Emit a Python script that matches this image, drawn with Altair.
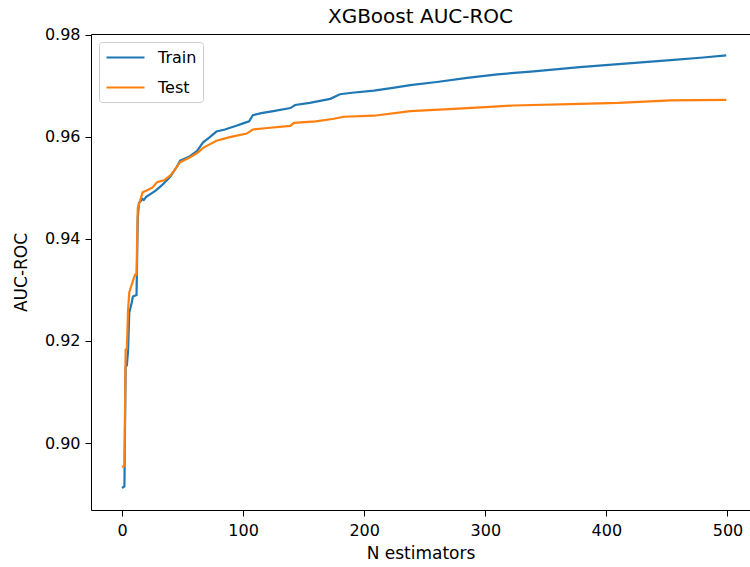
import altair as alt
import pandas as pd

n_train = [0, 2, 3, 4, 5, 6, 8, 9, 12, 13, 14, 17, 18, 20, 25, 28, 33, 40, 45, 48,
           55, 62, 67, 72, 78, 85, 95, 100, 105, 108, 115, 125, 139, 143, 155, 172,
           180, 190, 208, 225, 238, 260, 285, 310, 340, 378, 410, 453, 480, 499]
auc_train = [0.8912, 0.8915, 0.9150, 0.9152, 0.9180, 0.9255, 0.9275, 0.9287, 0.9290,
             0.9440, 0.9470, 0.9478, 0.9476, 0.9482, 0.9490, 0.9495, 0.9505, 0.9522,
             0.9540, 0.9553, 0.9560, 0.9572, 0.9589, 0.9598, 0.9610, 0.9614, 0.9622,
             0.9626, 0.9630, 0.9642, 0.9646, 0.9650, 0.9656, 0.9662, 0.9666, 0.9674,
             0.9683, 0.9686, 0.9690, 0.9696, 0.9701, 0.9707, 0.9715, 0.9722, 0.9728,
             0.9736, 0.9742, 0.9750, 0.9755, 0.9759]

n_test = [0, 2, 3, 4, 5, 6, 8, 10, 11, 12, 13, 15, 17, 20, 25, 29, 35, 40, 45, 48,
          55, 62, 67, 70, 78, 89, 103, 108, 120, 139, 142, 160, 175, 183, 208, 238,
          270, 300, 323, 378, 410, 453, 499]
auc_test = [0.8953, 0.8955, 0.9183, 0.9184, 0.9260, 0.9295, 0.9310, 0.9325, 0.9330,
            0.9330, 0.9460, 0.9475, 0.9491, 0.9494, 0.9500, 0.9511, 0.9515, 0.9524,
            0.9540, 0.9550, 0.9558, 0.9568, 0.9578, 0.9582, 0.9592, 0.9599, 0.9606,
            0.9614, 0.9617, 0.9621, 0.9627, 0.9630, 0.9635, 0.9639, 0.9641, 0.9650,
            0.9654, 0.9658, 0.9661, 0.9664, 0.9666, 0.9671, 0.9672]

series_names = ["Train", "Test"]
series_colors = ["#1f77b4", "#ff7f0e"]
x_ticks = [0, 100, 200, 300, 400, 500]
y_ticks = [0.90, 0.92, 0.94, 0.96, 0.98]

df = pd.concat([
    pd.DataFrame({"n": n_train, "auc": auc_train, "series": "Train"}),
    pd.DataFrame({"n": n_test, "auc": auc_test, "series": "Test"}),
], ignore_index=True)

FONT = "DejaVu Sans"

chart = alt.Chart(df).mark_line(strokeWidth=2.2).encode(
    x=alt.X("n:Q",
            scale=alt.Scale(domain=[-25.6, 518.6], nice=False, zero=False),
            axis=alt.Axis(values=x_ticks, title="N estimators", grid=False,
                          domain=False, tickSize=6, tickColor="black",
                          labelFontSize=16, labelFont=FONT, labelColor="black",
                          labelPadding=6, titleFontSize=17, titleFont=FONT,
                          titleFontWeight="normal", titleColor="black",
                          titlePadding=7)),
    y=alt.Y("auc:Q",
            scale=alt.Scale(domain=[0.8869, 0.9801], nice=False, zero=False),
            axis=alt.Axis(values=y_ticks, format=".2f", title="AUC-ROC", grid=False,
                          domain=False, tickSize=6, tickColor="black",
                          labelFontSize=16, labelFont=FONT, labelColor="black",
                          labelPadding=5, titleFontSize=17, titleFont=FONT,
                          titleFontWeight="normal", titleColor="black",
                          titlePadding=14)),
    color=alt.Color("series:N",
                    scale=alt.Scale(domain=series_names, range=series_colors),
                    legend=alt.Legend(title=None, orient="none", legendX=8, legendY=8,
                                      symbolType="M-1,0H3.75", symbolSize=256,
                                      symbolStrokeWidth=2.2, labelFontSize=16,
                                      labelFont=FONT, labelColor="black",
                                      padding=6, strokeColor="#cccccc",
                                      fillColor="white", cornerRadius=3,
                                      rowPadding=12, labelOffset=34)),
    order=alt.Order("n:Q"),
).properties(
    width=659,
    height=476,
    title=alt.TitleParams("XGBoost AUC-ROC", fontSize=20, font=FONT,
                          fontWeight="normal", color="black", anchor="middle",
                          offset=0),
    autosize=alt.AutoSizeParams(type="none"),
    padding={"left": 91, "top": 34, "right": 0, "bottom": 57},
).configure_view(stroke="black", strokeWidth=1)

chart.save("out.html", embed_options={"renderer": "svg", "actions": False})
